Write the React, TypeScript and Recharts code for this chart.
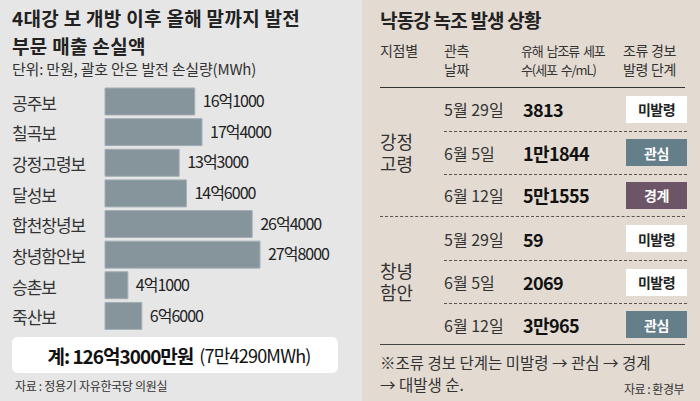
import React from 'react';
import { BarChart, Bar, XAxis, YAxis, LabelList } from 'recharts';

// --- Data ---

const weirs = ['공주보', '칠곡보', '강정고령보', '달성보', '합천창녕보', '창녕함안보', '승촌보', '죽산보'];
// 손실액 (만원)
const losses = [161000, 174000, 133000, 146000, 264000, 278000, 41000, 66000];
const totalMWh = '7만4290';

const sites = ['강정\n고령', '창녕\n함안'];
const obsDates = ['5월 29일', '6월 5일', '6월 12일'];
const cellCounts = [
  ['3813', '1만1844', '5만1555'],
  ['59', '2069', '3만965'],
];
const alertLevels = [
  ['미발령', '관심', '경계'],
  ['미발령', '미발령', '관심'],
];

// --- Styles ---

const FONT = "'Noto Sans CJK KR', 'Noto Sans', sans-serif";
const LEFT_BG = '#e6e6e6';
const RIGHT_BG = '#e3dbd2';
const BAR_COLOR = '#86949c';

const BADGE: Record<string, { bg: string; color: string }> = {
  미발령: { bg: '#ffffff', color: '#222' },
  관심: { bg: '#647e8a', color: '#fff' },
  경계: { bg: '#6c5566', color: '#fff' },
};

const chartData = weirs.map((name, i) => ({ name, value: losses[i] }));

// 161000 -> "16억1000"
const fmtWon = (v: number) => {
  const eok = Math.floor(v / 10000);
  const rest = v % 10000;
  return rest ? `${eok}억${rest}` : `${eok}억`;
};

const WeirTick = ({ y, payload }: any) => (
  <text x={12} y={y} dy={1} dominantBaseline="central" fontSize={17} letterSpacing={-1} fill="#333" fontFamily={FONT}>
    {payload.value}
  </text>
);

const Badge = ({ level }: { level: string }) => (
  <div
    style={{
      width: 61,
      height: 27,
      background: BADGE[level].bg,
      color: BADGE[level].color,
      fontWeight: 700,
      fontSize: 14,
      display: 'flex',
      alignItems: 'center',
      justifyContent: 'center',
      letterSpacing: -0.5,
    }}
  >
    {level}
  </div>
);

const ROW_H = 42.8;

export default function App() {
  const total = losses.reduce((a, b) => a + b, 0);

  return (
    <div style={{ position: 'relative', width: 700, height: 401, fontFamily: FONT, overflow: 'hidden' }}>
      <style>{'body{margin:0}'}</style>

      {/* Left panel */}
      <div style={{ position: 'absolute', left: 0, top: 0, width: 362, height: 401, background: LEFT_BG }}>
        <div style={{ position: 'absolute', left: 12, top: 4, fontSize: 19, fontWeight: 700, color: '#222', lineHeight: '27.5px', letterSpacing: 0.3 }}>
          <div>4대강 보 개방 이후 올해 말까지 발전</div>
          <div>부문 매출 손실액</div>
        </div>
        <div style={{ position: 'absolute', left: 12, top: 58, fontSize: 15, color: '#333', letterSpacing: -0.2 }}>
          단위: 만원, 괄호 안은 발전 손실량(MWh)
        </div>

        <div style={{ position: 'absolute', left: 0, top: 80 }}>
          <BarChart width={362} height={256} data={chartData} layout="vertical" margin={{ top: 6, right: 34, bottom: 5, left: 0 }}>
            <XAxis type="number" domain={[0, 400000]} hide />
            <YAxis type="category" dataKey="name" width={105} axisLine={false} tickLine={false} tick={<WeirTick />} interval={0} />
            <Bar dataKey="value" fill={BAR_COLOR} stroke="#a3afb5" strokeWidth={1} barSize={27} isAnimationActive={false}>
              <LabelList
                dataKey="value"
                position="right"
                offset={8}
                formatter={(v: any) => fmtWon(Number(v))}
                style={{ fontSize: 16, letterSpacing: -1, fill: '#222', fontFamily: FONT }}
              />
            </Bar>
          </BarChart>
        </div>

        <div
          style={{
            position: 'absolute',
            left: 12,
            top: 337,
            width: 326,
            height: 36,
            background: '#fff',
            borderRadius: 6,
            display: 'flex',
            alignItems: 'center',
            justifyContent: 'center',
            color: '#111',
            paddingLeft: 8,
            boxSizing: 'border-box',
          }}
        >
          <span style={{ fontSize: 19, fontWeight: 700, letterSpacing: -1 }}>계: {fmtWon(total)}만원</span>
          <span style={{ fontSize: 18, letterSpacing: -0.8, marginLeft: 6 }}>({totalMWh}MWh)</span>
        </div>

        <div style={{ position: 'absolute', left: 15, top: 377, fontSize: 12, color: '#333', letterSpacing: -0.3 }}>
          자료 : 정용기 자유한국당 의원실
        </div>
      </div>

      {/* Right panel */}
      <div style={{ position: 'absolute', left: 362, top: 0, width: 338, height: 401, background: RIGHT_BG, color: '#333' }}>
        <div style={{ position: 'absolute', left: 18, top: 6, fontSize: 19, fontWeight: 700, color: '#222', letterSpacing: -0.8 }}>
          낙동강 녹조 발생 상황
        </div>

        {/* header */}
        <div style={{ position: 'absolute', left: 18, top: 41, fontSize: 14, lineHeight: '19px', letterSpacing: -0.3 }}>지점별</div>
        <div style={{ position: 'absolute', left: 82, top: 41, fontSize: 14, lineHeight: '19px', letterSpacing: -0.3 }}>
          관측
          <br />
          날짜
        </div>
        <div style={{ position: 'absolute', left: 159, top: 41, fontSize: 13, lineHeight: '19px', letterSpacing: -1.1, wordSpacing: 2 }}>
          유해 남조류 세포
          <br />
          수(세포 수/mL)
        </div>
        <div style={{ position: 'absolute', left: 261, top: 41, fontSize: 14, lineHeight: '19px', letterSpacing: -0.3 }}>
          조류 경보
          <br />
          발령 단계
        </div>

        <div style={{ position: 'absolute', left: 18, top: 87, width: 305, borderTop: '1.5px solid #333' }}>
          {sites.map((site, g) => (
            <div
              key={site}
              style={{
                position: 'relative',
                height: ROW_H * 3,
                borderTop: g > 0 ? '1px dashed #555' : 'none',
                boxSizing: 'border-box',
              }}
            >
              <div
                style={{
                  position: 'absolute',
                  left: 0,
                  top: 0,
                  height: '100%',
                  display: 'flex',
                  alignItems: 'center',
                  fontSize: 18,
                  lineHeight: '22px',
                  whiteSpace: 'pre',
                  color: '#333',
                }}
              >
                {site}
              </div>
              {obsDates.map((d, r) => (
                <div
                  key={d}
                  style={{
                    position: 'absolute',
                    left: 64,
                    top: r * ROW_H,
                    width: 243,
                    height: ROW_H,
                    display: 'flex',
                    alignItems: 'center',
                    borderTop: r > 0 ? '1px dashed #555' : 'none',
                    boxSizing: 'border-box',
                  }}
                >
                  <span style={{ width: 79, fontSize: 16, letterSpacing: 0 }}>{d}</span>
                  <span style={{ flex: 1, fontSize: 18, fontWeight: 700, color: '#111', letterSpacing: -0.6 }}>{cellCounts[g][r]}</span>
                  <Badge level={alertLevels[g][r]} />
                </div>
              ))}
            </div>
          ))}
        </div>
        <div style={{ position: 'absolute', left: 18, top: 344, width: 305, borderTop: '1.5px solid #444' }} />

        <div style={{ position: 'absolute', left: 18, top: 351, fontSize: 15.5, lineHeight: '22px', letterSpacing: 0, color: '#333' }}>
          ※조류 경보 단계는 미발령 → 관심 → 경계
          <br />→ 대발생 순.
        </div>
        <div style={{ position: 'absolute', right: 16, top: 380, fontSize: 12, color: '#333', letterSpacing: -0.5 }}>자료 : 환경부</div>
      </div>
    </div>
  );
}
